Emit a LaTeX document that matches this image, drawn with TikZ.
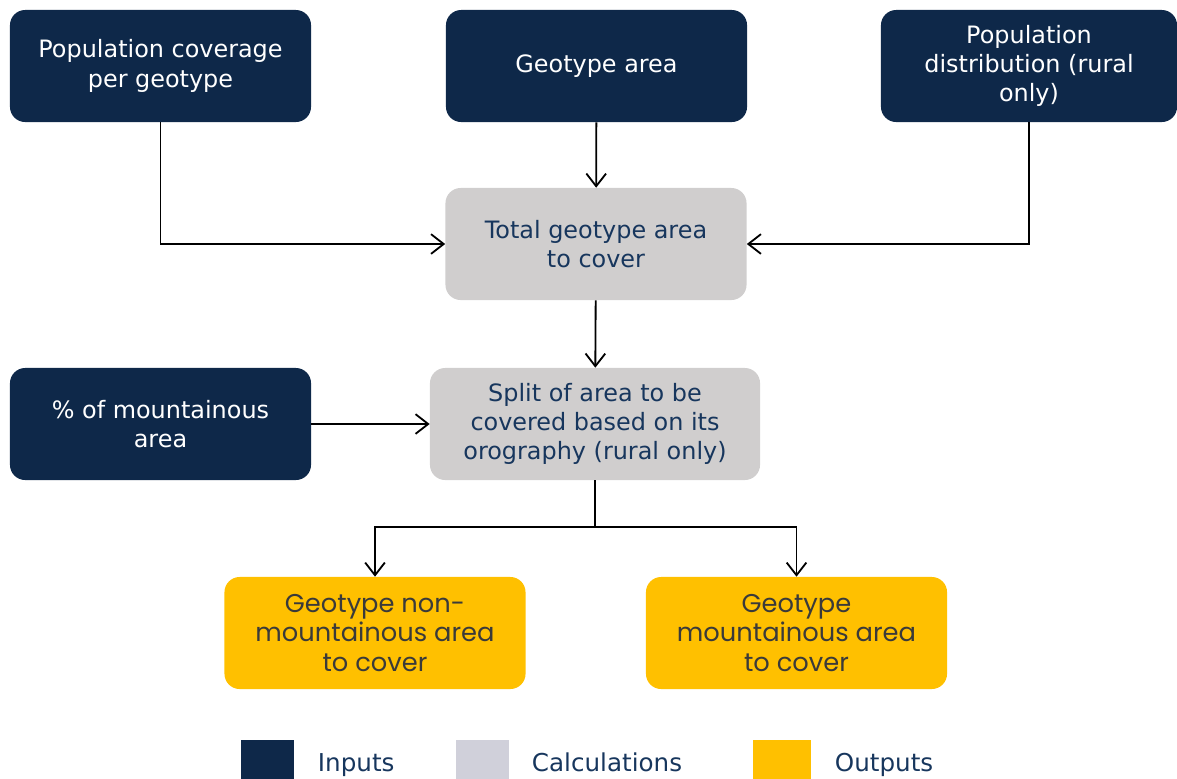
\documentclass[tikz,border=0pt]{standalone}
\usepackage{fontspec}
\setmainfont{DejaVu Sans}
\newfontfamily\outfont{Poppins}
\usetikzlibrary{arrows.meta}
\definecolor{inblue}{HTML}{0E2849}
\definecolor{calcgrey}{HTML}{D0CECE}
\definecolor{keygrey}{HTML}{D0D0DA}
\definecolor{outyellow}{HTML}{FFC000}
\definecolor{calctext}{HTML}{17365D}
\definecolor{outtext}{HTML}{3A3A3A}
\tikzstyle{box}=[rounded corners=0.38cm, minimum width=7.525cm, minimum height=2.8cm, align=center, inner sep=0pt, font=\fontsize{17}{20.8}\selectfont]
\tikzstyle{input}=[box, fill=inblue, text=white]
\tikzstyle{calc}=[box, fill=calcgrey, text=calctext]
\tikzstyle{output}=[box, fill=outyellow, text=outtext, font=\outfont\fontsize{18.3}{20.8}\selectfont]
\tikzstyle{flow}=[-{Straight Barb[length=9pt,width=14pt]}, line width=1.3pt]
\tikzstyle{key}=[minimum width=1.325cm, minimum height=1.325cm, inner sep=0pt]
\tikzstyle{keytext}=[anchor=base west, text=calctext, font=\fontsize{17.5}{20}\selectfont]

\begin{document}
\begin{tikzpicture}[x=0.025cm, y=-0.025cm]
		\useasboundingbox (0,0) rectangle (1177,778);
		\node[input] (popcov) at (160.5,66) {Population coverage\\per geotype};
		\node[input] (geoarea) at (596.5,66) {Geotype area};
		\node[input, minimum width=7.4cm] (popdist) at (1029,66) {Population\\distribution (rural\\only)};
		\node[calc] (total) at (596,244) {Total geotype area\\to cover};
		\node[input] (mount) at (160.5,424) {\% of mountainous\\area};
		\node[calc, minimum width=8.25cm] (split) at (595,424) {Split of area to be\\covered based on its\\orography (rural only)};
		\node[output] (nonmount) at (375,633) {Geotype non-\\mountainous area\\to cover};
		\node[output] (mountout) at (796.5,633) {Geotype\\mountainous area\\to cover};
		\draw[flow] (popcov.south) |- (total.west);
		\draw[flow] (popdist.south) |- (total.east);
		\draw[flow] (geoarea) -- (total);
		\draw[flow] (total) -- (split);
		\draw[flow] (mount) -- (split);
		\coordinate (fork) at (595,527);
		\draw[line width=1.3pt] (split.south) -- (fork);
		\draw[flow] (fork) -| (nonmount.north);
		\draw[flow] (fork) -| (mountout.north);
		\node[key, fill=inblue, anchor=north west] (keyin) at (241,740) {};
		\node[keytext] (keyintext) at (313,771) {Inputs};
		\node[key, fill=keygrey, anchor=north west] (keycalc) at (456,740) {};
		\node[keytext] (keycalctext) at (527,771) {Calculations};
		\node[key, fill=outyellow, anchor=north west, minimum width=1.45cm] (keyout) at (753,740) {};
		\node[keytext] (keyouttext) at (830,771) {Outputs};
\end{tikzpicture}
\end{document}
